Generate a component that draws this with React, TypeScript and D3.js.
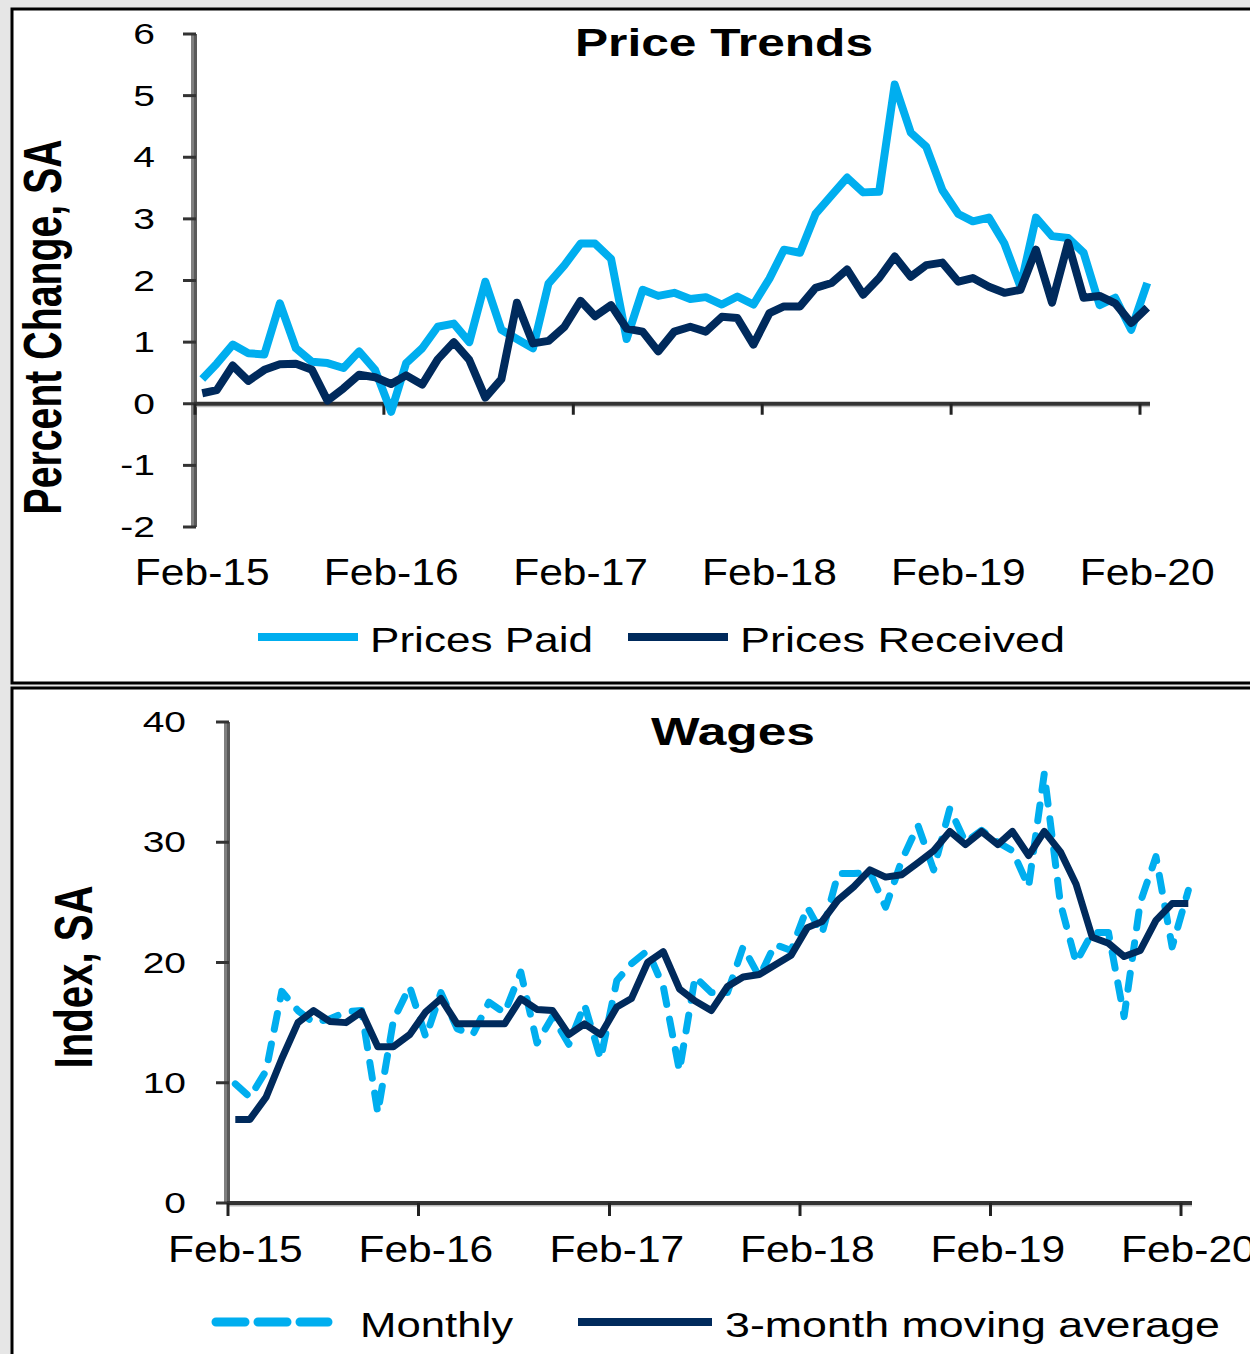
import React, { useEffect, useRef } from 'react'
import * as d3 from 'd3'

const W = 1250
const H = 1354
const FONT = "Arial, 'Liberation Sans', sans-serif"
const LIGHT = '#00aeef'
const NAVY = '#002a5c'

// monthly observations, Feb-15 .. Feb-20 (plotted mid-month)
const months = d3.range(61).map(i => new Date(2015, 1 + i, 15))
const yearTicks = d3.range(6).map(i => new Date(2015 + i, 1, 1))
const yearLabels = ['Feb-15', 'Feb-16', 'Feb-17', 'Feb-18', 'Feb-19', 'Feb-20']

const priceTicks = [-2, -1, 0, 1, 2, 3, 4, 5, 6]
const wageTicks = [0, 10, 20, 30, 40]

const pricesPaid = [
  0.4, 0.65, 0.96, 0.82, 0.8, 1.63, 0.9, 0.68, 0.66, 0.58,
  0.85, 0.55, -0.13, 0.66, 0.9, 1.25, 1.3, 1.0, 1.98, 1.2,
  1.05, 0.9, 1.95, 2.25, 2.6, 2.6, 2.35, 1.05, 1.85, 1.75,
  1.8, 1.7, 1.73, 1.61, 1.74, 1.61, 2.03, 2.5, 2.45, 3.08,
  3.38, 3.67, 3.43, 3.44, 5.18, 4.4, 4.17, 3.47, 3.08, 2.96,
  3.02, 2.6, 1.9, 3.02, 2.72, 2.69, 2.45, 1.6, 1.72, 1.2, 1.96
]

const pricesReceived = [
  0.17, 0.22, 0.62, 0.37, 0.55, 0.64, 0.65, 0.55, 0.05, 0.25,
  0.47, 0.43, 0.32, 0.46, 0.31, 0.72, 1.0, 0.71, 0.1, 0.4,
  1.64, 0.98, 1.02, 1.25, 1.67, 1.42, 1.6, 1.22, 1.17, 0.85,
  1.17, 1.25, 1.17, 1.41, 1.39, 0.96, 1.47, 1.58, 1.58, 1.88,
  1.96, 2.18, 1.77, 2.04, 2.39, 2.06, 2.25, 2.29, 1.98, 2.04,
  1.9, 1.8, 1.85, 2.5, 1.64, 2.61, 1.72, 1.75, 1.63, 1.31, 1.56
]

const wagesMonthly = [
  9.9, 8.8, 11, 17.6, 16, 15, 15.3, 15.9, 16, 7.5,
  15.2, 18, 13.8, 17.5, 14.5, 14, 16.7, 15.8, 19.2, 13.3,
  15.5, 13.2, 16.5, 12, 18.5, 19.9, 21, 18, 11, 18.8,
  17.5, 17.5, 21.3, 18.8, 21.5, 21, 24.6, 22.4, 27.4, 27.4,
  27.5, 24.6, 28.5, 31.4, 27.7, 32.8, 30, 31, 30, 29.3,
  26.3, 35.7, 24.9, 20, 22.5, 22.5, 15.5, 25, 28.8, 21.3, 26
]

const wagesAvg = [
  6.95, 6.95, 8.8, 12.0, 15, 16, 15.1, 15, 15.9, 13,
  13, 14, 15.9, 17, 14.9, 14.9, 14.9, 14.9, 17, 16.1,
  16, 14, 14.9, 14, 16.3, 17, 20, 20.9, 17.8, 16.8,
  16, 18, 18.8, 19, 19.8, 20.6, 22.9, 23.4, 25.2, 26.3,
  27.7, 27.1, 27.3, 28.3, 29.3, 30.9, 29.8, 30.9, 29.8, 30.9,
  28.9, 30.9, 29.2, 26.5, 22.1, 21.6, 20.5, 21, 23.5, 24.9, 24.9
]

const App = () => {
  const ref = useRef(null)

  useEffect(() => {
    const svg = d3.select(ref.current)
    svg.selectAll('*').remove()

    svg.append('rect').attr('width', W).attr('height', H).attr('fill', '#e6e6e6')

    // panel frames
    svg.append('rect').attr('x', 12).attr('y', 9).attr('width', 1260).attr('height', 674)
      .attr('fill', '#fff').attr('stroke', '#000').attr('stroke-width', 3)
    svg.append('rect').attr('x', 12).attr('y', 688).attr('width', 1260).attr('height', 700)
      .attr('fill', '#fff').attr('stroke', '#000').attr('stroke-width', 3)

    const stretchText = (g, txt, x, y, size, sx, anchor, weight = 'normal') =>
      g.append('text')
        .attr('transform', `translate(${x},${y}) scale(${sx},1)`)
        .attr('text-anchor', anchor)
        .attr('font-family', FONT)
        .attr('font-size', size)
        .attr('font-weight', weight)
        .attr('fill', '#000')
        .text(txt)

    const fitText = (g, txt, x, y, size, len, weight = 'normal', anchor = 'start') =>
      g.append('text')
        .attr('x', x).attr('y', y)
        .attr('text-anchor', anchor)
        .attr('font-family', FONT)
        .attr('font-size', size)
        .attr('font-weight', weight)
        .attr('textLength', len)
        .attr('lengthAdjust', 'spacingAndGlyphs')
        .attr('fill', '#000')
        .text(txt)

    const sideTitle = (g, txt, x, y, len) =>
      g.append('text')
        .attr('transform', `translate(${x},${y}) rotate(-90) scale(1,1.38)`)
        .attr('text-anchor', 'middle')
        .attr('font-family', FONT)
        .attr('font-size', 39)
        .attr('font-weight', 'bold')
        .attr('textLength', len)
        .attr('lengthAdjust', 'spacingAndGlyphs')
        .text(txt)

    const drawAxes = (g, x, y, ticks, opt) => {
      const x0 = x.range()[0] - 1
      const y0 = y(0)
      // y axis
      g.append('line').attr('x1', x0).attr('x2', x0)
        .attr('y1', y(ticks[ticks.length - 1])).attr('y2', y(ticks[0]))
        .attr('stroke', '#808080').attr('stroke-width', 6)
      g.append('line').attr('x1', x0 + 1.5).attr('x2', x0 + 1.5)
        .attr('y1', y(ticks[ticks.length - 1])).attr('y2', y(ticks[0]))
        .attr('stroke', '#5a5a5a').attr('stroke-width', 3)
      ticks.forEach(t => {
        g.append('line').attr('x1', x0 - 11).attr('x2', x0 + 2)
          .attr('y1', y(t)).attr('y2', y(t))
          .attr('stroke', '#333').attr('stroke-width', 3)
        stretchText(g, String(t), opt.labelRight, y(t) + 10, 30, 1.3, 'end')
      })
      // x axis
      g.append('line').attr('x1', x0).attr('x2', opt.xEnd)
        .attr('y1', y0 + 2.5).attr('y2', y0 + 2.5)
        .attr('stroke', '#bdbdbd').attr('stroke-width', 2)
      g.append('line').attr('x1', x0).attr('x2', opt.xEnd)
        .attr('y1', y0).attr('y2', y0)
        .attr('stroke', '#333').attr('stroke-width', 4)
      yearTicks.forEach((d, i) => {
        g.append('line').attr('x1', x(d)).attr('x2', x(d))
          .attr('y1', y0).attr('y2', y0 + opt.tickLen)
          .attr('stroke', '#222').attr('stroke-width', 3)
        stretchText(g, yearLabels[i], x(d3.timeDay.offset(d, 14)), opt.labelBase, 37, 1.15, 'middle')
      })
    }

    const plotLine = (g, x, y, values, color, width, dash) => {
      const line = d3.line()
        .x((_, i) => x(months[i]))
        .y(d => y(d))
      const p = g.append('path')
        .datum(values)
        .attr('d', line)
        .attr('fill', 'none')
        .attr('stroke', color)
        .attr('stroke-width', width)
        .attr('stroke-linejoin', 'round')
      if (dash) p.attr('stroke-dasharray', dash).attr('stroke-linecap', 'round')
    }

    // ---- Price Trends
    const top = svg.append('g')
    const x1 = d3.scaleTime().domain([yearTicks[0], yearTicks[5]]).range([195, 1140])
    const y1 = d3.scaleLinear().domain([-2, 6]).range([527, 34])

    drawAxes(top, x1, y1, priceTicks, { labelRight: 155, xEnd: 1150, tickLen: 11, labelBase: 585 })
    plotLine(top, x1, y1, pricesPaid, LIGHT, 8)
    plotLine(top, x1, y1, pricesReceived, NAVY, 8)

    fitText(top, 'Price Trends', 724, 56, 39, 298, 'bold', 'middle')
    sideTitle(top, 'Percent Change, SA', 61, 327, 375)

    top.append('line').attr('x1', 258).attr('x2', 358).attr('y1', 637).attr('y2', 637)
      .attr('stroke', LIGHT).attr('stroke-width', 8)
    fitText(top, 'Prices Paid', 370, 652, 35, 223)
    top.append('line').attr('x1', 628).attr('x2', 728).attr('y1', 637).attr('y2', 637)
      .attr('stroke', NAVY).attr('stroke-width', 8)
    fitText(top, 'Prices Received', 740, 652, 35, 325)

    // ---- Wages
    const bot = svg.append('g')
    const x2 = d3.scaleTime().domain([yearTicks[0], yearTicks[5]]).range([228, 1181])
    const y2 = d3.scaleLinear().domain([0, 40]).range([1203, 722])

    drawAxes(bot, x2, y2, wageTicks, { labelRight: 186, xEnd: 1192, tickLen: 13, labelBase: 1262 })
    plotLine(bot, x2, y2, wagesMonthly, LIGHT, 7, '16 15')
    plotLine(bot, x2, y2, wagesAvg, NAVY, 7)

    fitText(bot, 'Wages', 733, 745, 39, 164, 'bold', 'middle')
    sideTitle(bot, 'Index, SA', 92, 977, 183)

    bot.append('line').attr('x1', 216).attr('x2', 328).attr('y1', 1322).attr('y2', 1322)
      .attr('stroke', LIGHT).attr('stroke-width', 9)
      .attr('stroke-dasharray', '29 13').attr('stroke-linecap', 'round')
    fitText(bot, 'Monthly', 360, 1337, 35, 153)
    bot.append('line').attr('x1', 578).attr('x2', 712).attr('y1', 1322).attr('y2', 1322)
      .attr('stroke', NAVY).attr('stroke-width', 8)
    fitText(bot, '3-month moving average', 725, 1337, 35, 495)
  }, [])

  return (
    <svg ref={ref} width={W} height={H}
      style={{ position: 'absolute', left: 0, top: 0, display: 'block' }} />
  )
}

export default App
